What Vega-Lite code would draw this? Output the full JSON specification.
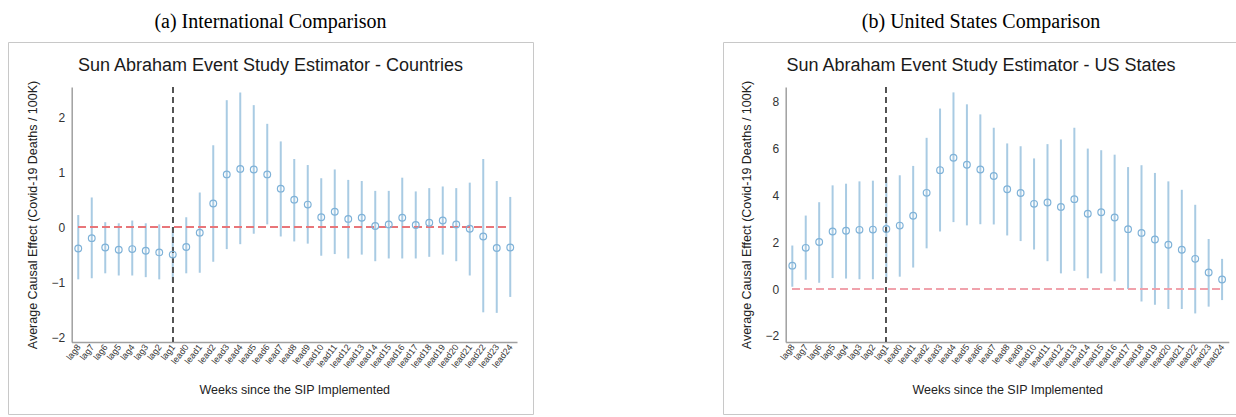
{
  "$schema": "https://vega.github.io/schema/vega-lite/v6.json",
  "padding": {"left": 7, "top": 11, "right": 0, "bottom": 0},
  "background": "white",
  "spacing": 188,
  "config": {
    "view": {"stroke": "#c8c8c8", "strokeWidth": 1},
    "axis": {"grid": false, "ticks": false, "domainColor": "#a0a0a0", "domainWidth": 1.5, "labelFont": "Liberation Sans", "labelColor": "#333333", "titleFont": "Liberation Sans", "titleFontWeight": "normal", "titleColor": "#222222", "titleFontSize": 12.5}
  },
  "datasets": {
    "intl": [
      {"week": "lag8", "est": -0.39, "lo": -0.95, "hi": 0.22},
      {"week": "lag7", "est": -0.20, "lo": -0.93, "hi": 0.54},
      {"week": "lag6", "est": -0.37, "lo": -0.84, "hi": 0.09},
      {"week": "lag5", "est": -0.41, "lo": -0.88, "hi": 0.07},
      {"week": "lag4", "est": -0.40, "lo": -0.88, "hi": 0.12},
      {"week": "lag3", "est": -0.43, "lo": -0.91, "hi": 0.07},
      {"week": "lag2", "est": -0.46, "lo": -0.95, "hi": 0.05},
      {"week": "lag1", "est": -0.50, "lo": -1.00, "hi": 0.00},
      {"week": "lead0", "est": -0.36, "lo": -0.84, "hi": 0.18},
      {"week": "lead1", "est": -0.10, "lo": -0.83, "hi": 0.63},
      {"week": "lead2", "est": 0.43, "lo": -0.63, "hi": 1.49},
      {"week": "lead3", "est": 0.96, "lo": -0.40, "hi": 2.31},
      {"week": "lead4", "est": 1.06, "lo": -0.31, "hi": 2.45},
      {"week": "lead5", "est": 1.05, "lo": -0.12, "hi": 2.22},
      {"week": "lead6", "est": 0.96, "lo": 0.05, "hi": 1.88},
      {"week": "lead7", "est": 0.70, "lo": -0.17, "hi": 1.56},
      {"week": "lead8", "est": 0.50, "lo": -0.26, "hi": 1.24},
      {"week": "lead9", "est": 0.41, "lo": -0.30, "hi": 1.13},
      {"week": "lead10", "est": 0.18, "lo": -0.52, "hi": 0.89},
      {"week": "lead11", "est": 0.28, "lo": -0.49, "hi": 1.05},
      {"week": "lead12", "est": 0.15, "lo": -0.57, "hi": 0.86},
      {"week": "lead13", "est": 0.17, "lo": -0.50, "hi": 0.84},
      {"week": "lead14", "est": 0.02, "lo": -0.62, "hi": 0.66},
      {"week": "lead15", "est": 0.05, "lo": -0.57, "hi": 0.66},
      {"week": "lead16", "est": 0.17, "lo": -0.57, "hi": 0.90},
      {"week": "lead17", "est": 0.04, "lo": -0.57, "hi": 0.65},
      {"week": "lead18", "est": 0.08, "lo": -0.54, "hi": 0.71},
      {"week": "lead19", "est": 0.12, "lo": -0.50, "hi": 0.74},
      {"week": "lead20", "est": 0.05, "lo": -0.62, "hi": 0.71},
      {"week": "lead21", "est": -0.03, "lo": -0.88, "hi": 0.81},
      {"week": "lead22", "est": -0.17, "lo": -1.55, "hi": 1.24},
      {"week": "lead23", "est": -0.38, "lo": -1.56, "hi": 0.84},
      {"week": "lead24", "est": -0.37, "lo": -1.27, "hi": 0.55}
    ],
    "us": [
      {"week": "lag8", "est": 1.00, "lo": 0.10, "hi": 1.86},
      {"week": "lag7", "est": 1.76, "lo": 0.40, "hi": 3.14},
      {"week": "lag6", "est": 2.01, "lo": 0.27, "hi": 3.71},
      {"week": "lag5", "est": 2.46, "lo": 0.47, "hi": 4.43},
      {"week": "lag4", "est": 2.49, "lo": 0.45, "hi": 4.50},
      {"week": "lag3", "est": 2.53, "lo": 0.42, "hi": 4.60},
      {"week": "lag2", "est": 2.54, "lo": 0.42, "hi": 4.63},
      {"week": "lag1", "est": 2.57, "lo": 0.40, "hi": 4.79},
      {"week": "lead0", "est": 2.71, "lo": 0.53, "hi": 4.86},
      {"week": "lead1", "est": 3.13, "lo": 0.92, "hi": 5.26},
      {"week": "lead2", "est": 4.11, "lo": 1.74, "hi": 6.46},
      {"week": "lead3", "est": 5.08, "lo": 2.46, "hi": 7.71},
      {"week": "lead4", "est": 5.61, "lo": 2.86, "hi": 8.40},
      {"week": "lead5", "est": 5.31, "lo": 2.72, "hi": 7.89},
      {"week": "lead6", "est": 5.11, "lo": 2.77, "hi": 7.46},
      {"week": "lead7", "est": 4.83, "lo": 2.76, "hi": 6.89},
      {"week": "lead8", "est": 4.26, "lo": 2.29, "hi": 6.22},
      {"week": "lead9", "est": 4.10, "lo": 2.05, "hi": 6.10},
      {"week": "lead10", "est": 3.64, "lo": 1.69, "hi": 5.58},
      {"week": "lead11", "est": 3.70, "lo": 1.19, "hi": 6.19},
      {"week": "lead12", "est": 3.51, "lo": 0.67, "hi": 6.39},
      {"week": "lead13", "est": 3.84, "lo": 0.78, "hi": 6.89},
      {"week": "lead14", "est": 3.22, "lo": 0.46, "hi": 6.00},
      {"week": "lead15", "est": 3.28, "lo": 0.67, "hi": 5.93},
      {"week": "lead16", "est": 3.06, "lo": 0.33, "hi": 5.74},
      {"week": "lead17", "est": 2.56, "lo": 0.00, "hi": 5.21},
      {"week": "lead18", "est": 2.40, "lo": -0.53, "hi": 5.29},
      {"week": "lead19", "est": 2.12, "lo": -0.67, "hi": 4.96},
      {"week": "lead20", "est": 1.89, "lo": -0.85, "hi": 4.60},
      {"week": "lead21", "est": 1.68, "lo": -0.85, "hi": 4.24},
      {"week": "lead22", "est": 1.29, "lo": -1.04, "hi": 3.60},
      {"week": "lead23", "est": 0.71, "lo": -0.75, "hi": 2.14},
      {"week": "lead24", "est": 0.41, "lo": -0.47, "hi": 1.29}
    ]
  },
  "hconcat": [
    {
      "width": 525,
      "height": 372,
      "title": {"text": "(a) International Comparison", "subtitle": "Sun Abraham Event Study Estimator - Countries", "font": "Liberation Serif", "fontSize": 20, "fontWeight": "normal", "color": "#000000", "subtitleFont": "Liberation Sans", "subtitleFontSize": 18, "subtitleColor": "#1a1a1a", "subtitlePadding": 24.5, "offset": -32.5, "anchor": "middle", "frame": "group"},
      "data": {"name": "intl"},
      "encoding": {
        "x": {"field": "week", "type": "ordinal", "sort": null, "scale": {"type": "point", "padding": 0.5, "range": [63.5, 509]},
          "axis": {"orient": "bottom", "offset": -72, "title": "Weeks since the SIP Implemented", "labelAngle": -52, "labelAlign": "right", "labelBaseline": "middle", "labelFontSize": 9, "labelPadding": 3, "titlePadding": 14}},
        "y": {"type": "quantitative", "scale": {"domain": [-2.09, 2.55], "range": [300, 45], "nice": false, "zero": false},
          "axis": {"orient": "left", "offset": -63.7, "values": [-2, -1, 0, 1, 2], "title": "Average Causal Effect (Covid-19 Deaths / 100K)", "labelFontSize": 12, "labelPadding": 7, "titlePadding": 12}}
      },
      "layer": [
        {"mark": {"type": "rule", "color": "#a9cbe3", "strokeWidth": 2}, "encoding": {"y": {"field": "lo", "type": "quantitative"}, "y2": {"field": "hi"}}},
        {"mark": {"type": "rule", "color": "#e8767a", "strokeWidth": 1.3, "strokeDash": [7, 5]}, "encoding": {"x": {"datum": "lag8"}, "x2": {"datum": "lead24"}, "y": {"datum": 0}}},
        {"mark": {"type": "rule", "color": "#555555", "strokeWidth": 1, "strokeDash": [6, 4]}, "encoding": {"x": {"datum": "lag1"}, "y": {"datum": 2.55}, "y2": {"datum": -2.09}}},
        {"mark": {"type": "point", "shape": "circle", "filled": false, "size": 45, "color": "#7fb2d8", "strokeWidth": 1.2, "opacity": 1}, "encoding": {"y": {"field": "est", "type": "quantitative"}}}
      ]
    },
    {
      "width": 516,
      "height": 372,
      "title": {"text": "(b) United States Comparison", "subtitle": "Sun Abraham Event Study Estimator - US States", "font": "Liberation Serif", "fontSize": 20, "fontWeight": "normal", "color": "#000000", "subtitleFont": "Liberation Sans", "subtitleFontSize": 18, "subtitleColor": "#1a1a1a", "subtitlePadding": 24.5, "offset": -32.5, "anchor": "middle", "frame": "group"},
      "data": {"name": "us"},
      "encoding": {
        "x": {"field": "week", "type": "ordinal", "sort": null, "scale": {"type": "point", "padding": 0.5, "range": [62.6, 505.8]},
          "axis": {"orient": "bottom", "offset": -72, "title": "Weeks since the SIP Implemented", "labelAngle": -52, "labelAlign": "right", "labelBaseline": "middle", "labelFontSize": 9, "labelPadding": 3, "titlePadding": 14}},
        "y": {"type": "quantitative", "scale": {"domain": [-2.26, 8.63], "range": [300, 45], "nice": false, "zero": false},
          "axis": {"orient": "left", "offset": -62.7, "values": [-2, 0, 2, 4, 6, 8], "title": "Average Causal Effect (Covid-19 Deaths / 100K)", "labelFontSize": 12, "labelPadding": 7, "titlePadding": 12}}
      },
      "layer": [
        {"mark": {"type": "rule", "color": "#a9cbe3", "strokeWidth": 2}, "encoding": {"y": {"field": "lo", "type": "quantitative"}, "y2": {"field": "hi"}}},
        {"mark": {"type": "rule", "color": "#f0a3ac", "strokeWidth": 1.5, "strokeDash": [7, 5]}, "encoding": {"x": {"datum": "lag8"}, "x2": {"datum": "lead24"}, "y": {"datum": 0}}},
        {"mark": {"type": "rule", "color": "#555555", "strokeWidth": 1, "strokeDash": [6, 4]}, "encoding": {"x": {"datum": "lag1"}, "y": {"datum": 8.63}, "y2": {"datum": -2.26}}},
        {"mark": {"type": "point", "shape": "circle", "filled": false, "size": 45, "color": "#7fb2d8", "strokeWidth": 1.2, "opacity": 1}, "encoding": {"y": {"field": "est", "type": "quantitative"}}}
      ]
    }
  ]
}
